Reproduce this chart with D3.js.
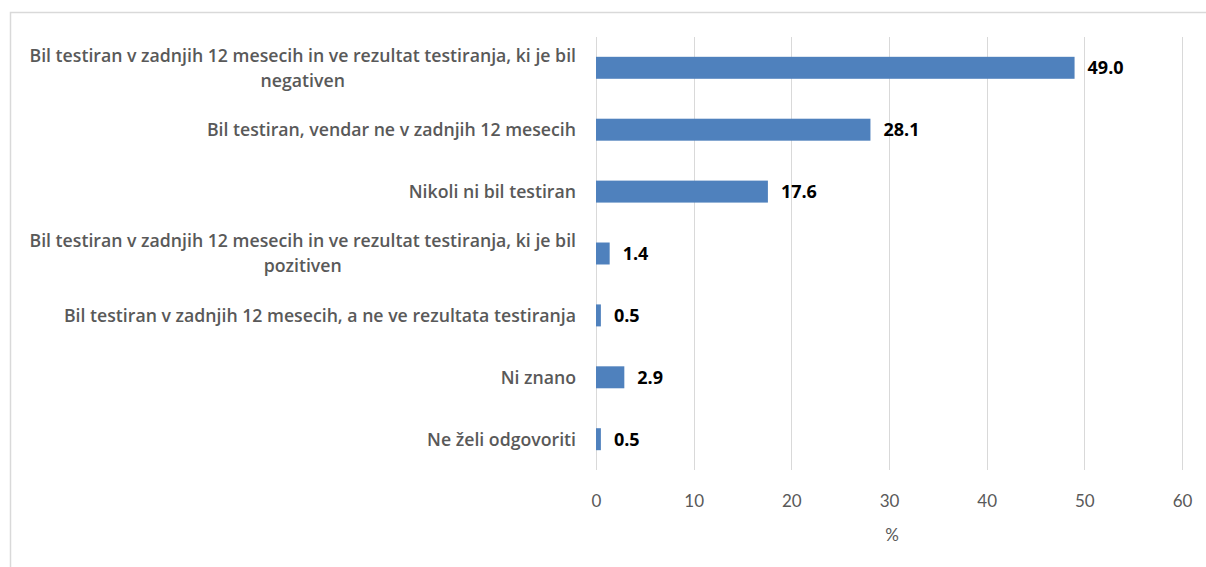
<!DOCTYPE html>
<html>
<head>
<meta charset="utf-8">
<script src="https://cdn.jsdelivr.net/npm/d3@7"></script>
<style>
  html, body { margin: 0; padding: 0; background: #fff; }
  svg { display: block; }
  text { font-family: "Open Sans", Lato, sans-serif; }
</style>
</head>
<body>
<svg id="chart" width="1206" height="567"></svg>
<script>
// Categories (each entry is a list of label lines)
const categories = [
  ["Bil testiran v zadnjih 12 mesecih in ve rezultat testiranja, ki je bil", "negativen"],
  ["Bil testiran, vendar ne v zadnjih 12 mesecih"],
  ["Nikoli ni bil testiran"],
  ["Bil testiran v zadnjih 12 mesecih in ve rezultat testiranja, ki je bil", "pozitiven"],
  ["Bil testiran v zadnjih 12 mesecih, a ne ve rezultata testiranja"],
  ["Ni znano"],
  ["Ne želi odgovoriti"]
];
const values = [49.0, 28.1, 17.6, 1.4, 0.5, 2.9, 0.5];
const xTicks = [0, 10, 20, 30, 40, 50, 60];
const xTitle = "%";

const svg = d3.select("#chart");

// outer chart frame
svg.append("rect")
  .attr("x", 10.5).attr("y", 12.5)
  .attr("width", 1200).attr("height", 570)
  .attr("fill", "none").attr("stroke", "#d9d9d9").attr("stroke-width", 1.5);

const plot = { left: 596, right: 1182, top: 37, bottom: 470 };

const x = d3.scaleLinear().domain([0, 60]).range([plot.left, plot.right]);
const y = d3.scaleBand()
  .domain(d3.range(categories.length))
  .range([plot.top, plot.bottom])
  .paddingInner(0.645).paddingOuter(0.32);

// vertical gridlines
svg.append("g")
  .selectAll("line")
  .data(xTicks)
  .join("line")
  .attr("x1", d => Math.round(x(d)) + 0.5).attr("x2", d => Math.round(x(d)) + 0.5)
  .attr("y1", plot.top).attr("y2", plot.bottom)
  .attr("stroke", "#d9d9d9").attr("stroke-width", 1);

// x axis tick labels
const xAxis = d3.axisBottom(x).tickValues(xTicks).tickSize(0).tickPadding(0);
const gx = svg.append("g").attr("transform", `translate(0,${plot.bottom + 37})`).call(xAxis);
gx.select(".domain").remove();
gx.selectAll("text")
  .attr("dy", 0)
  .attr("fill", "#595959")
  .style("font-size", "17px")
  .style("font-family", "Lato, sans-serif");

svg.append("text")
  .attr("x", (plot.left + plot.right) / 2 + 3)
  .attr("y", plot.bottom + 71)
  .attr("text-anchor", "middle")
  .attr("fill", "#595959")
  .style("font-size", "17px")
  .style("font-family", "Lato, sans-serif")
  .text(xTitle);

// bars
svg.append("g")
  .selectAll("rect")
  .data(values)
  .join("rect")
  .attr("x", x(0))
  .attr("y", (d, i) => y(i))
  .attr("width", d => x(d) - x(0))
  .attr("height", y.bandwidth())
  .attr("fill", "#4f81bd");

// value labels
svg.append("g")
  .selectAll("text")
  .data(values)
  .join("text")
  .attr("x", d => x(d) + 13)
  .attr("y", (d, i) => y(i) + y.bandwidth() / 2)
  .attr("dy", "0.36em")
  .attr("fill", "#000")
  .style("font-size", "18px")
  .style("font-weight", "bold")
  .text(d => d.toFixed(1));

// category labels
const lineH = 25;
const labels = svg.append("g")
  .selectAll("text")
  .data(categories)
  .join("text")
  .attr("text-anchor", "middle")
  .attr("fill", "#595959")
  .style("font-size", "17.7px")
  .style("font-weight", "600");

labels.each(function(lines, i) {
  const t = d3.select(this);
  const cy = y(i) + y.bandwidth() / 2;
  const y0 = cy - (lines.length - 1) * lineH / 2;
  lines.forEach((ln, k) => {
    t.append("tspan")
      .attr("y", y0 + k * lineH)
      .attr("dy", "0.36em")
      .text(ln);
  });
});

// right-align each label block against the axis, with wrapped lines centred under the first
labels.each(function() {
  const t = d3.select(this);
  const tspans = t.selectAll("tspan");
  let maxW = 0;
  tspans.each(function() { maxW = Math.max(maxW, this.getComputedTextLength()); });
  const cx = 576 - maxW / 2;
  tspans.attr("x", cx);
});
</script>
</body>
</html>
